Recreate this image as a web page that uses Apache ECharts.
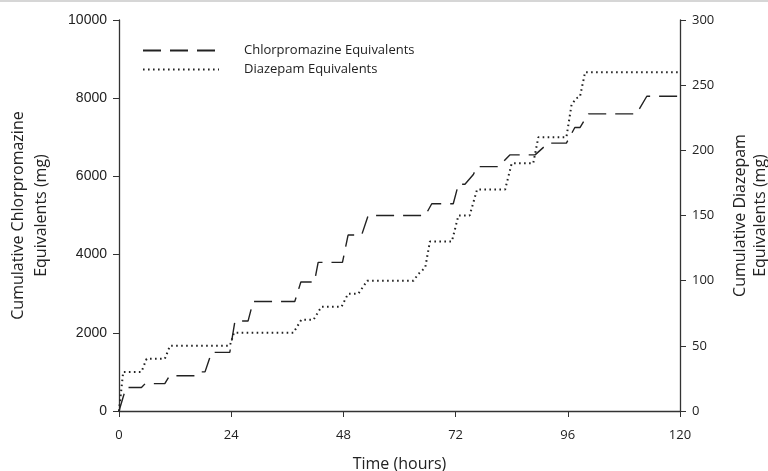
<!DOCTYPE html>
<html><head><meta charset="utf-8">
<script src="https://cdn.jsdelivr.net/npm/echarts@6/dist/echarts.min.js"></script>
<style>html,body{margin:0;padding:0;background:#fff}#c{width:768px;height:471px}</style>
</head><body><div id="c"></div>
<script>
const xTicks = [0, 24, 48, 72, 96, 120];
const chlorHours = [0,1.5,4.8,5.6,9.8,10.8,16.7,17.5,18.4,19.8,23.7,24.8,27.6,28.7,37.6,38.9,41.8,42.6,47.8,49,51.9,53.3,65.5,66.9,71.5,72.6,74,75.8,76.6,81.2,83.6,89,91.8,95.7,97.5,98.6,100.4,110.7,112.9,120];
const chlorMg    = [0,600,600,700,700,900,900,1000,1000,1500,1500,2300,2300,2800,2800,3300,3300,3800,3800,4500,4500,5000,5000,5300,5300,5800,5800,6050,6250,6250,6550,6550,6850,6850,7250,7250,7600,7600,8050,8050];
const diazHours = [0,0.9,4.8,5.9,9.8,10.9,23.7,24.6,37.3,39,41.6,43.3,47.6,49,51.2,53.1,63,64,65.5,66.5,71.2,72.6,75,76.6,82.6,84,88.6,89.7,95.7,96.8,97.8,98.6,99.7,120];
const diazMg    = [0,30,30,40,40,50,50,60,60,70,70,80,80,90,90,100,100,105,110,130,130,150,150,170,170,190,190,210,210,235,240,241,260,260];

const chlor = chlorHours.map((h,i)=>[h, chlorMg[i]]);
const diaz = diazHours.map((h,i)=>[h, diazMg[i]]);
const axisCol = '#333';
const chart = echarts.init(document.getElementById('c'), null, {renderer:'canvas'});
chart.setOption({
  animation:false,
  backgroundColor:'#fff',
  grid:{left:119, right:88, top:20, bottom:60, containLabel:false, outerBoundsMode:'none'},
  graphic:[{type:'line', shape:{x1:0,y1:1,x2:768,y2:1}, style:{stroke:'#c8c8c8', lineWidth:1.5}}],
  legend:{
    orient:'vertical', left:137, top:39, itemWidth:76, itemHeight:14, itemGap:6,
    itemStyle:{opacity:0},
    textStyle:{fontFamily:'Open Sans', fontSize:13, color:'#222', padding:[0,0,0,20]},
    data:['Chlorpromazine Equivalents','Diazepam Equivalents']
  },
  xAxis:{
    type:'value', min:0, max:120, interval:24,
    name:'Time (hours)', nameLocation:'middle', nameGap:45,
    nameTextStyle:{fontFamily:'Open Sans', fontSize:16, color:'#222'},
    axisLine:{lineStyle:{color:axisCol, width:1.3}},
    axisTick:{show:true, length:6, lineStyle:{color:axisCol}},
    axisLabel:{fontFamily:'Open Sans', fontSize:13, color:'#222', margin:18,
      formatter:v=> xTicks.includes(v) ? String(v) : ''},
    splitLine:{show:false}
  },
  yAxis:[{
    type:'value', min:0, max:10000, interval:2000, position:'left',
    name:'Cumulative Chlorpromazine\nEquivalents (mg)', nameLocation:'middle', nameGap:66,
    nameTextStyle:{fontFamily:'Open Sans', fontSize:16, color:'#222', lineHeight:23},
    axisLine:{show:true, lineStyle:{color:axisCol, width:1.3}},
    axisTick:{show:true, length:6, lineStyle:{color:axisCol}},
    axisLabel:{fontFamily:'Liberation Sans', fontSize:14, color:'#222', margin:12, formatter:v=>String(v)},
    splitLine:{show:false}
  },{
    type:'value', min:0, max:300, interval:50, position:'right',
    name:'Cumulative Diazepam\nEquivalents (mg)', nameLocation:'middle', nameGap:50,
    nameTextStyle:{fontFamily:'Open Sans', fontSize:16, color:'#222', lineHeight:20},
    axisLine:{show:true, lineStyle:{color:axisCol, width:1.3}},
    axisTick:{show:true, length:6, lineStyle:{color:axisCol}},
    axisLabel:{fontFamily:'Open Sans', fontSize:13, color:'#222', margin:12, formatter:v=>String(v)},
    splitLine:{show:false}
  }],
  series:[{
    name:'Chlorpromazine Equivalents', type:'line', yAxisIndex:0, data:chlor,
    symbol:'none', showSymbol:false, color:'#222',
    lineStyle:{color:'#222', width:1.4, type:[18,9]}
  },{
    name:'Diazepam Equivalents', type:'line', yAxisIndex:1, data:diaz,
    symbol:'none', showSymbol:false, color:'#222',
    lineStyle:{color:'#222', width:2, type:[1.6,3.4]}
  }]
});
</script></body></html>
